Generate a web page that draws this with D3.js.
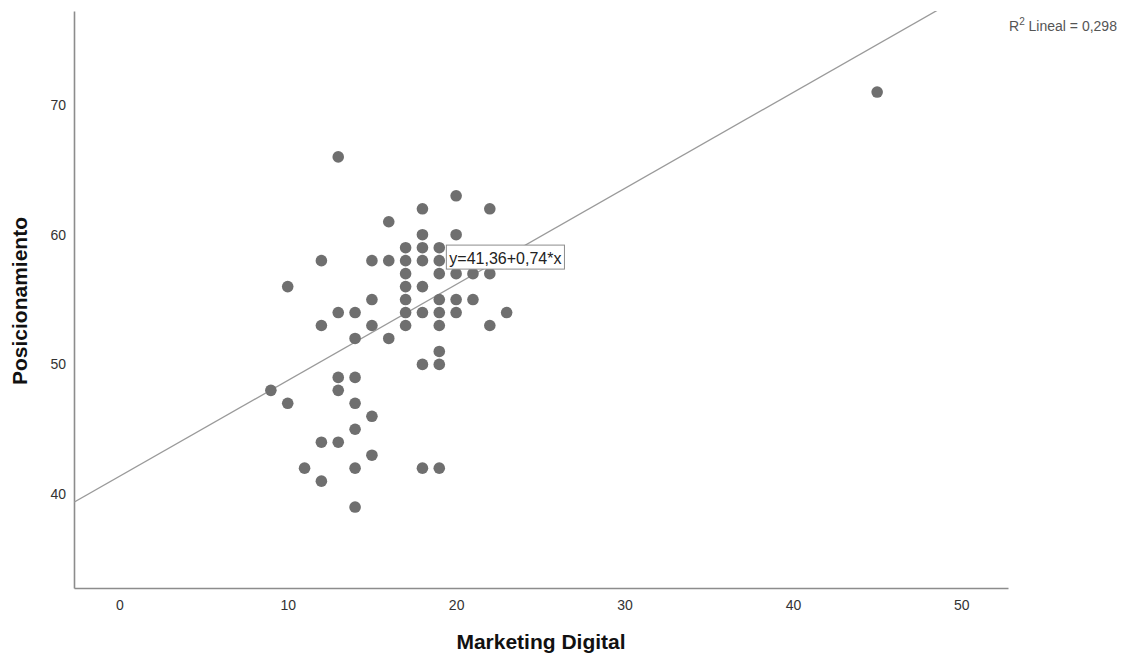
<!DOCTYPE html>
<html>
<head>
<meta charset="utf-8">
<script src="https://cdn.jsdelivr.net/npm/d3@7"></script>
<style>
  body { margin: 0; background: #fff; }
  svg { display: block; font-family: "Liberation Sans", Arial, sans-serif; }
</style>
</head>
<body>
<svg id="chart" width="1124" height="657"></svg>
<script>
// Marketing Digital (x) vs Posicionamiento (y), one entry per respondent
const marketingDigital = [
  9, 10, 10, 11, 12, 12, 12, 12,
  13, 13, 13, 13, 13,
  14, 14, 14, 14, 14, 14, 14,
  15, 15, 15, 15, 15,
  16, 16, 16,
  17, 17, 17, 17, 17, 17, 17,
  18, 18, 18, 18, 18, 18, 18, 18,
  19, 19, 19, 19, 19, 19, 19, 19, 19,
  20, 20, 20, 20, 20,
  21, 21,
  22, 22, 22,
  23, 45
];
const posicionamiento = [
  48, 56, 47, 42, 58, 53, 44, 41,
  66, 54, 49, 48, 44,
  54, 52, 49, 47, 45, 42, 39,
  58, 55, 53, 46, 43,
  61, 58, 52,
  59, 58, 57, 56, 55, 54, 53,
  62, 60, 59, 58, 56, 54, 50, 42,
  59, 58, 57, 55, 54, 53, 51, 50, 42,
  63, 60, 57, 55, 54,
  57, 55,
  62, 57, 53,
  54, 71
];
const xTicks = [0, 10, 20, 30, 40, 50];
const yTicks = [40, 50, 60, 70];
const fitIntercept = 41.36;
const fitSlope = 0.74;
const fitLabel = "y=41,36+0,74*x";
const r2Label = "0,298";

const svg = d3.select("#chart");
const plotLeft = 74, plotRight = 1008, plotTop = 11, plotBottom = 588;

const x = d3.scaleLinear().domain([-2.69, 52.77]).range([plotLeft, plotRight]);
const y = d3.scaleLinear().domain([32.76, 77.25]).range([plotBottom, plotTop]);

// axes (no tick marks, just lines and labels)
const xAxis = svg.append("g").attr("transform", `translate(0,${plotBottom})`)
  .call(d3.axisBottom(x).tickValues(xTicks).tickSize(0).tickPadding(12).tickFormat(d3.format("d")));
xAxis.select(".domain").attr("stroke", "#8c8c8c").attr("stroke-width", 1.6);
xAxis.selectAll("text").attr("font-size", 14).attr("fill", "#333")
  .attr("font-family", "Liberation Sans, Arial, sans-serif");

const yAxis = svg.append("g").attr("transform", `translate(${plotLeft},0)`)
  .call(d3.axisLeft(y).tickValues(yTicks).tickSize(0).tickPadding(8).tickFormat(d3.format("d")));
yAxis.select(".domain").attr("stroke", "#8c8c8c").attr("stroke-width", 1.6);
yAxis.selectAll("text").attr("font-size", 14).attr("fill", "#333")
  .attr("font-family", "Liberation Sans, Arial, sans-serif");

// fitted line clipped to the plot frame
svg.append("clipPath").attr("id", "plotClip")
  .append("rect").attr("x", plotLeft).attr("y", plotTop)
  .attr("width", plotRight - plotLeft).attr("height", plotBottom - plotTop);
const [x0, x1] = x.domain();
svg.append("line")
  .attr("clip-path", "url(#plotClip)")
  .attr("x1", x(x0)).attr("y1", y(fitIntercept + fitSlope * x0))
  .attr("x2", x(x1)).attr("y2", y(fitIntercept + fitSlope * x1))
  .attr("stroke", "#9a9a9a").attr("stroke-width", 1.3);

// points
const pts = marketingDigital.map((d, i) => ({ x: d, y: posicionamiento[i] }));
svg.append("g").selectAll("circle").data(pts).join("circle")
  .attr("cx", d => x(d.x)).attr("cy", d => y(d.y)).attr("r", 5.8)
  .attr("fill", "#6f6f6f");

// equation label box
const lbl = svg.append("g").attr("transform", `translate(${x(19.42)},${y(59.2)})`);
const lblText = lbl.append("text").attr("x", 3).attr("y", 18.5)
  .attr("font-size", 16).attr("fill", "#222").text(fitLabel);
const bw = lblText.node().getComputedTextLength() + 6;
lbl.insert("rect", "text").attr("x", 0).attr("y", 0).attr("width", bw).attr("height", 24)
  .attr("fill", "#fff").attr("stroke", "#8c8c8c").attr("stroke-width", 1);

// R² annotation
const r2 = svg.append("text").attr("x", 1009).attr("y", 31).attr("text-anchor", "start")
  .attr("font-size", 14).attr("fill", "#555");
r2.append("tspan").text("R");
r2.append("tspan").attr("dy", -6).attr("font-size", 10).text("2");
r2.append("tspan").attr("dy", 6).text(" Lineal = " + r2Label);

// axis titles
svg.append("text").attr("x", 541).attr("y", 649).attr("text-anchor", "middle")
  .attr("font-size", 21).attr("font-weight", "bold").attr("fill", "#111").text("Marketing Digital");
svg.append("text").attr("transform", "translate(27,301) rotate(-90)").attr("text-anchor", "middle")
  .attr("font-size", 21).attr("font-weight", "bold").attr("fill", "#111").text("Posicionamiento");
</script>
</body>
</html>
